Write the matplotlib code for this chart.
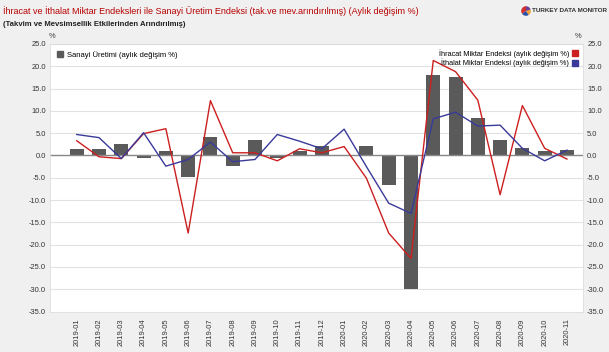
import numpy as np
import matplotlib
matplotlib.use('Agg')
import matplotlib.pyplot as plt
from matplotlib.lines import Line2D
from matplotlib.patches import Patch

plt.rcParams['font.family'] = ['Liberation Sans', 'DejaVu Sans']

# monthly data
months = ['2019-01', '2019-02', '2019-03', '2019-04', '2019-05', '2019-06',
          '2019-07', '2019-08', '2019-09', '2019-10', '2019-11', '2019-12',
          '2020-01', '2020-02', '2020-03', '2020-04', '2020-05', '2020-06',
          '2020-07', '2020-08', '2020-09', '2020-10', '2020-11']
sanayi = [1.4, 1.4, 2.5, -0.5, 1.1, -4.9, 4.1, -2.3, 3.4, -0.5, 1.0, 2.2,
          0.0, 2.1, -6.6, -30.0, 18.1, 17.7, 8.3, 3.5, 1.7, 1.1, 1.2]
ihracat = [3.3, -0.3, -0.7, 4.9, 6.0, -17.4, 12.3, 0.6, 0.6, -1.2, 1.5, 0.6,
           2.0, -5.1, -17.4, -23.1, 21.3, 18.8, 12.4, -8.8, 11.2, 1.6, -0.8]
ithalat = [4.7, 4.0, -0.7, 5.1, -2.4, -0.9, 3.0, -1.4, -0.9, 4.7, 3.2, 1.5,
           5.9, -2.5, -10.7, -13.0, 8.2, 9.7, 6.6, 6.8, 1.6, -1.2, 1.2]
yticks = np.arange(-35, 26, 5)

red = '#cc1f1f'
blue = '#3a3a9a'
gray = '#5a5a5a'
fs = 5.4

fig = plt.figure(figsize=(6.09, 3.52), dpi=100)
fig.patch.set_facecolor('#f0f0f0')
ax = fig.add_axes([50/609, 1-311.5/352, 533/609, (311.5-44)/352])
ax.set_facecolor('white')

x = np.arange(len(months))
ax.bar(x, sanayi, width=0.63, color=gray, zorder=2)
ax.plot(x, ihracat, color=red, lw=1.0, zorder=3)
ax.plot(x, ithalat, color=blue, lw=1.0, zorder=3)
ax.axhline(0, color='#888888', lw=1.0, zorder=2.5)

ax.set_xlim(-1.2, len(months) - 0.28)
ax.set_ylim(-35, 25)
ax.set_yticks(yticks)
ax.set_yticklabels(['%.1f' % v for v in yticks])
ax.set_xticks(x)
ax.set_xticklabels(months, rotation=90)
ax.tick_params(axis='y', length=0, pad=3, labelsize=fs, colors='#333333',
               left=True, right=True, labelleft=True, labelright=True)
ax.tick_params(axis='x', length=0, pad=5, labelsize=fs, colors='#333333')
ax.yaxis.grid(True, color='#e2e2e2', lw=0.8, zorder=0)
ax.set_axisbelow(True)
for s in ax.spines.values():
    s.set_color('#dddddd')
    s.set_linewidth(0.6)

# legends
leg1 = ax.legend([Patch(color=gray)], ['Sanayi Üretimi (aylık değişim %)'],
                 loc='upper left', frameon=False, fontsize=5.5,
                 handlelength=0.8, handleheight=0.8, handletextpad=0.5,
                 borderaxespad=0.5)
ax.add_artist(leg1)
h2 = [Line2D([], [], ls='none', marker='s', color=red, markersize=4.2),
      Line2D([], [], ls='none', marker='s', color=blue, markersize=4.2)]
ax.legend(h2, ['İhracat Miktar Endeksi (aylık değişim %)',
               'İthalat Miktar Endeksi (aylık değişim %)'],
          loc='upper right', frameon=False, fontsize=5.3, markerfirst=False,
          handlelength=0.8, handletextpad=0.4, labelspacing=0.05,
          borderaxespad=0.3)

# percent signs
fig.text(52/609, 1-37/352, '%', fontsize=fs, color='#333333', ha='center', va='center')
fig.text(578/609, 1-37/352, '%', fontsize=fs, color='#333333', ha='center', va='center')

# titles
fig.text(3/609, 1-11/352,
         'İhracat ve İthalat Miktar Endeksleri ile Sanayi Üretim Endeksi (tak.ve mev.arındırılmış) (Aylık değişim %)',
         fontsize=6.5, color='#b80000', ha='left', va='center')
fig.text(3/609, 1-24/352, '(Takvim ve Mevsimsellik Etkilerinden Arındırılmış)',
         fontsize=5.6, fontweight='bold', color='#222222', ha='left', va='center')

# logo
lax = fig.add_axes([520/609, 1-17/352, 12/609, 12/352])
lax.pie([35, 25, 20, 20], colors=['#d0312d', '#2b4ea2', '#f0a030', '#6a3d9a'],
        startangle=90)
lax.set_aspect('equal')
fig.text(532/609, 1-11/352, 'TURKEY DATA MONITOR', fontsize=4.6,
         fontweight='bold', color='#333333', ha='left', va='center')

fig.savefig('out.png', dpi=100, facecolor=fig.get_facecolor())
